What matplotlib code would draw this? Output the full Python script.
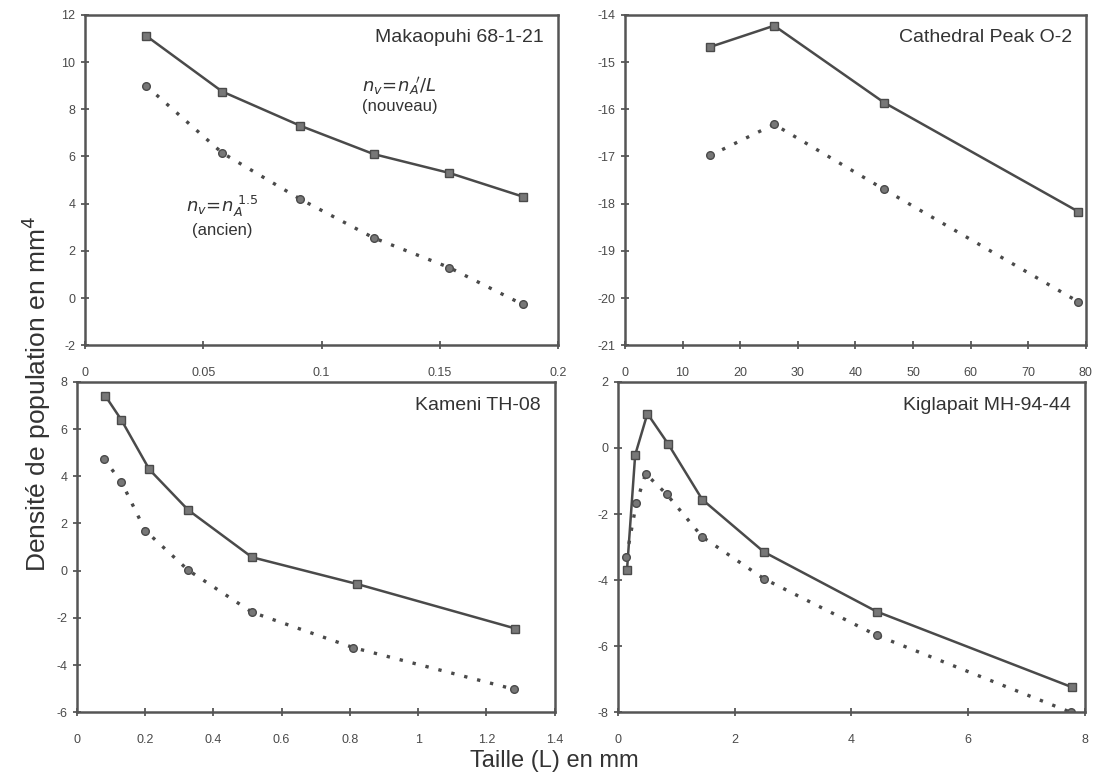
import matplotlib
matplotlib.use("Agg")
import matplotlib.pyplot as plt

plt.rcParams["font.family"] = ["Liberation Sans", "DejaVu Sans"]

# Makaopuhi 68-1-21
mak_x = [0.026, 0.058, 0.091, 0.122, 0.154, 0.185]
mak_new = [11.1, 8.75, 7.3, 6.1, 5.3, 4.3]
mak_old = [8.98, 6.15, 4.19, 2.55, 1.29, -0.27]

# Cathedral Peak O-2
cat_x = [14.8, 25.9, 45.0, 78.7]
cat_new = [-14.68, -14.23, -15.86, -18.17]
cat_old = [-16.98, -16.32, -17.7, -20.08]

# Kameni TH-08
kam_x_new = [0.083, 0.13, 0.212, 0.326, 0.513, 0.82, 1.285]
kam_new = [7.41, 6.39, 4.29, 2.57, 0.57, -0.56, -2.45]
kam_x_old = [0.078, 0.13, 0.2, 0.326, 0.513, 0.81, 1.28]
kam_old = [4.74, 3.77, 1.7, 0.02, -1.76, -3.26, -5.02]

# Kiglapait MH-94-44
kig_x_new = [0.15, 0.29, 0.5, 0.86, 1.44, 2.5, 4.43, 7.78]
kig_new = [-3.69, -0.21, 1.04, 0.11, -1.56, -3.15, -4.95, -7.24]
kig_x_old = [0.14, 0.31, 0.47, 0.83, 1.44, 2.5, 4.43, 7.76]
kig_old = [-3.3, -1.67, -0.78, -1.4, -2.69, -3.96, -5.67, -8.0]

panels = [
    ("Makaopuhi 68-1-21", mak_x, mak_new, mak_x, mak_old,
     (0, 0.2), (-2, 12), [0, 0.05, 0.1, 0.15, 0.2], list(range(-2, 13, 2)),
     [0.0767, 0.558, 0.427, 0.423]),
    ("Cathedral Peak O-2", cat_x, cat_new, cat_x, cat_old,
     (0, 80), (-21, -14), list(range(0, 81, 10)), list(range(-21, -13)),
     [0.564, 0.558, 0.416, 0.423]),
    ("Kameni TH-08", kam_x_new, kam_new, kam_x_old, kam_old,
     (0, 1.4), (-6, 8), [0, 0.2, 0.4, 0.6, 0.8, 1, 1.2, 1.4], list(range(-6, 9, 2)),
     [0.0695, 0.088, 0.431, 0.423]),
    ("Kiglapait MH-94-44", kig_x_new, kig_new, kig_x_old, kig_old,
     (0, 8), (-8, 2), [0, 2, 4, 6, 8], list(range(-8, 3, 2)),
     [0.558, 0.088, 0.421, 0.423]),
]

col = "#4a4a4a"
fig = plt.figure(figsize=(11.08, 7.81), dpi=100)

axes = []
for title, xn, yn, xo, yo, xl, yl, xt, yt, pos in panels:
    ax = fig.add_axes(pos)
    ax.plot(xn, yn, "-", color=col, lw=1.8, marker="s", ms=5.5, mfc="#777777", mec=col)
    ax.plot(xo, yo, linestyle=(0, (1, 3)), color=col, lw=2.4, marker="o", ms=5.5,
            mfc="#777777", mec=col)
    ax.set_xlim(*xl)
    ax.set_ylim(*yl)
    ax.set_xticks(xt)
    ax.set_yticks(yt)
    ax.set_xticklabels([f"{v:g}" for v in xt])
    ax.set_yticklabels([f"{v:g}" for v in yt])
    ax.tick_params(direction="inout", length=6, width=1.2, colors=col, labelsize=9)
    ax.tick_params(axis="x", pad=13)
    ax.tick_params(axis="y", pad=4)
    for s in ax.spines.values():
        s.set_color("#555555")
        s.set_linewidth(1.8)
    ax.text(0.97, 0.93, title, transform=ax.transAxes, ha="right", va="center",
            fontsize=14, color="#333333")
    axes.append(ax)

a0 = axes[0]
a0.text(0.133, 9.0, r"$n_v\!=\!n_A\!'/L$", ha="center", va="center", fontsize=13, color="#333333")
a0.text(0.133, 8.1, "(nouveau)", ha="center", va="center", fontsize=12, color="#333333")
a0.text(0.058, 3.9, r"$n_v\!=\!n_A^{\ 1.5}$", ha="center", va="center", fontsize=13, color="#333333")
a0.text(0.058, 2.85, "(ancien)", ha="center", va="center", fontsize=12, color="#333333")

fig.text(0.033, 0.495, "Densité de population en mm$^4$", rotation=90,
         ha="center", va="center", fontsize=19, color="#333333")
fig.text(0.5, 0.025, "Taille (L) en mm", ha="center", va="center",
         fontsize=17, color="#333333")

fig.savefig("out.png", dpi=100)
